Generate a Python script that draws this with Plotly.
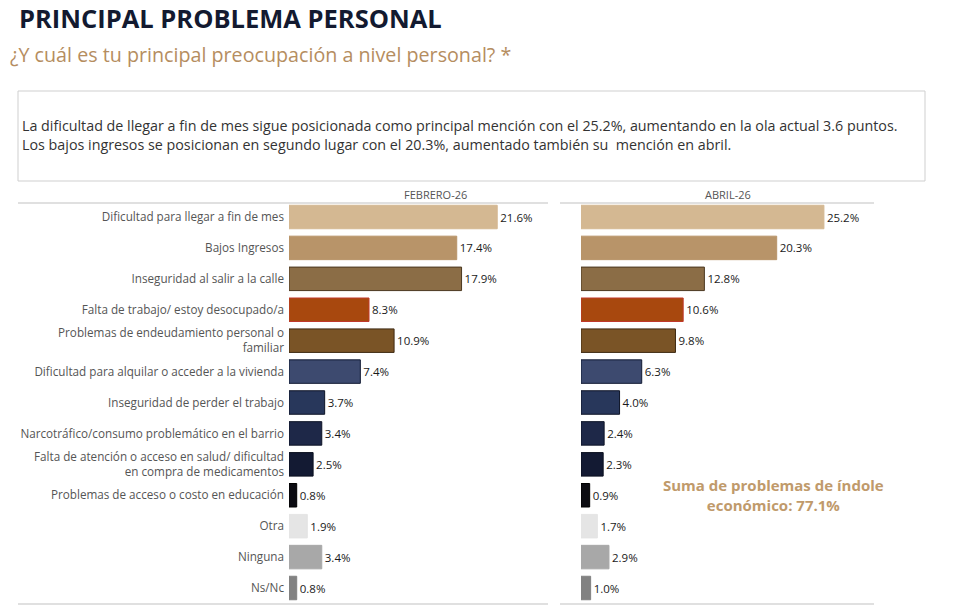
import plotly.graph_objects as go

W, H = 980, 610

categories = [
    "Dificultad para llegar a fin de mes",
    "Bajos Ingresos",
    "Inseguridad al salir a la calle",
    "Falta de trabajo/ estoy desocupado/a",
    "Problemas de endeudamiento personal o<br>familiar",
    "Dificultad para alquilar o acceder a la vivienda",
    "Inseguridad de perder el trabajo",
    "Narcotráfico/consumo problemático en el barrio",
    "Falta de atención o acceso en salud/ dificultad<br>en compra de medicamentos",
    "Problemas de acceso o costo en educación",
    "Otra",
    "Ninguna",
    "Ns/Nc",
]
feb_values = [21.6, 17.4, 17.9, 8.3, 10.9, 7.4, 3.7, 3.4, 2.5, 0.8, 1.9, 3.4, 0.8]
abr_values = [25.2, 20.3, 12.8, 10.6, 9.8, 6.3, 4.0, 2.4, 2.3, 0.9, 1.7, 2.9, 1.0]
bar_colors = ["#d4b892", "#b89469", "#8b6d46", "#a8480e", "#7a5426", "#3d4a6f",
              "#28375b", "#1e2848", "#131a33", "#0c0c12", "#e5e5e5", "#a8a8a8", "#828282"]
line_colors = ["#d4b892", "#b89469", "#4a3820", "#c0392b", "#3e2a12", "#111a33",
               "#0d1326", "#0d1326", "#0a0f1f", "#000000", "#e5e5e5", "#a8a8a8", "#828282"]
headers = ["FEBRERO-26", "ABRIL-26"]

title = "PRINCIPAL PROBLEMA PERSONAL"
subtitle = "¿Y cuál es tu principal preocupación a nivel personal? *"
box_lines = [
    "La dificultad de llegar a fin de mes sigue posicionada como principal mención con el 25.2%, aumentando en la ola actual 3.6 puntos.",
    "Los bajos ingresos se posicionan en segundo lugar con el 20.3%, aumentado también su  mención en abril.",
]
note = "Suma de problemas de índole<br>económico: 77.1%"

FONT = "Open Sans"
k = 9.64  # px per percentage point

def px(x):
    return x / W

def py(y):
    return 1 - y / H

fig = go.Figure()
for vals, xa in [(feb_values, "x"), (abr_values, "x2")]:
    fig.add_trace(go.Bar(
        x=vals, y=categories, orientation="h", xaxis=xa, yaxis="y",
        marker=dict(color=bar_colors, line=dict(color=line_colors, width=1)),
        width=0.76,
        texttemplate="%{x:.1f}%", textposition="outside",
        textfont=dict(family=FONT, size=11.5, color="#1a1a1a"),
        cliponaxis=False, showlegend=False, hoverinfo="skip",
    ))

left0, right0 = 289, 581
row_top, row_bot = 217, 588
step = (row_bot - row_top) / 12
ytop = row_top - step / 2
ybot = row_bot + step / 2

fig.update_layout(
    width=W, height=H, margin=dict(l=0, r=0, t=0, b=0),
    paper_bgcolor="white", plot_bgcolor="white",
    font=dict(family=FONT),
    bargap=0.24,
    xaxis=dict(domain=[px(left0), px(left0 + k * 26)], range=[0, 26],
               visible=False, fixedrange=True),
    xaxis2=dict(domain=[px(right0), px(right0 + k * 30)], range=[0, 30],
                visible=False, fixedrange=True),
    yaxis=dict(domain=[py(ybot), py(ytop)], autorange="reversed",
               categoryorder="array", categoryarray=categories,
               tickfont=dict(family=FONT, size=11.7, color="#555555"),
               showgrid=False, zeroline=False, showline=False,
               ticks="", ticklabelstandoff=4, anchor="x", fixedrange=True),
)

shapes = [
    dict(type="rect", xref="paper", yref="paper", x0=px(18), x1=px(925), y0=py(181), y1=py(91),
         line=dict(color="#cfcfcf", width=1)),
    dict(type="line", xref="paper", yref="paper", x0=px(18), x1=px(548), y0=py(203), y1=py(203),
         line=dict(color="#d6d6d6", width=1.5)),
    dict(type="line", xref="paper", yref="paper", x0=px(560), x1=px(874), y0=py(203), y1=py(203),
         line=dict(color="#d6d6d6", width=1.5)),
    dict(type="line", xref="paper", yref="paper", x0=px(18), x1=px(548), y0=py(604), y1=py(604),
         line=dict(color="#d6d6d6", width=1.5)),
    dict(type="line", xref="paper", yref="paper", x0=px(560), x1=px(874), y0=py(604), y1=py(604),
         line=dict(color="#d6d6d6", width=1.5)),
]
fig.update_layout(shapes=shapes)

ann = [
    dict(text="<b>" + title + "</b>", x=px(17), y=py(18), xanchor="left", yanchor="middle",
         font=dict(family=FONT, size=25.5, color="#131a30")),
    dict(text=subtitle, x=px(8), y=py(54), xanchor="left", yanchor="middle",
         font=dict(family=FONT, size=19.7, color="#b58d60")),
    dict(text=box_lines[0], x=px(20), y=py(125), xanchor="left", yanchor="middle",
         font=dict(family=FONT, size=14.3, color="#333333")),
    dict(text=box_lines[1], x=px(20), y=py(145), xanchor="left", yanchor="middle",
         font=dict(family=FONT, size=14.3, color="#333333")),
    dict(text=headers[0], x=px(435), y=py(194), xanchor="center", yanchor="middle",
         font=dict(family=FONT, size=11, color="#555555")),
    dict(text=headers[1], x=px(728), y=py(194), xanchor="center", yanchor="middle",
         font=dict(family=FONT, size=11, color="#555555")),
    dict(text="<b>" + note + "</b>", x=px(773), y=py(495), xanchor="center", yanchor="middle",
         font=dict(family=FONT, size=15, color="#c09a6b"), align="center"),
]
for a in ann:
    a.update(xref="paper", yref="paper", showarrow=False)
fig.update_layout(annotations=ann)

fig.write_html("out.html")
